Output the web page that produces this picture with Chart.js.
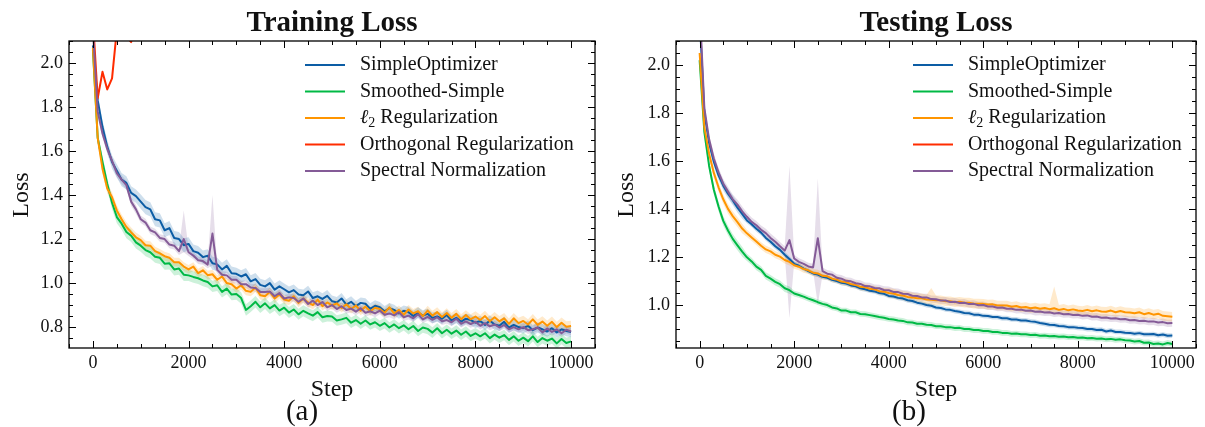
<!DOCTYPE html>
<html><head><meta charset="utf-8">
<script src="https://cdn.jsdelivr.net/npm/chart.js@4"></script>
<style>
html,body{margin:0;padding:0;background:#fff;}
#wrap{position:relative;width:1205px;height:427px;overflow:hidden;}
#c1{position:absolute;left:0;top:0;}
#c2{position:absolute;left:605px;top:0;}
</style></head><body>
<div id="wrap"><canvas id="c1" width="605" height="427"></canvas><canvas id="c2" width="600" height="427"></canvas></div>
<script>
// ---------- data ----------
const steps = Array.from({length: 101}, (_, i) => i * 100);
const xTickValues = [0, 2000, 4000, 6000, 8000, 10000];
const trainYTicks = [0.8, 1.0, 1.2, 1.4, 1.6, 1.8, 2.0];
const testYTicks = [1.0, 1.2, 1.4, 1.6, 1.8, 2.0];
const seriesNames = ['SimpleOptimizer', 'Smoothed-Simple', 'ℓ2 Regularization', 'Orthogonal Regularization', 'Spectral Normalization'];
const seriesColors = ['#0C5DA5', '#00B945', '#FF9500', '#FF2C00', '#845B97'];

// Training loss
const trainSimple = [2.08,1.83,1.71,1.62,1.55,1.51,1.47,1.455,1.41,1.395,
1.37,1.345,1.335,1.29,1.285,1.24,1.25,1.205,1.2,1.172,
1.178,1.145,1.138,1.118,1.124,1.09,1.085,1.062,1.078,1.045,
1.042,1.03,1.04,1.008,1.018,0.992,0.985,1.0,0.97,0.985,
0.972,0.958,0.968,0.948,0.945,0.962,0.932,0.94,0.928,0.942,
0.918,0.912,0.93,0.902,0.915,0.895,0.91,0.906,0.883,0.897,
0.89,0.872,0.886,0.878,0.862,0.874,0.868,0.85,0.866,0.852,
0.86,0.842,0.848,0.838,0.855,0.83,0.842,0.825,0.838,0.832,
0.82,0.828,0.81,0.83,0.812,0.806,0.824,0.798,0.81,0.8,
0.795,0.806,0.786,0.798,0.79,0.78,0.795,0.776,0.79,0.782,0.778];
const trainSmooth = [2.06,1.66,1.55,1.45,1.365,1.3,1.27,1.232,1.215,1.185,
1.17,1.15,1.14,1.12,1.115,1.088,1.09,1.062,1.066,1.038,
1.035,1.028,1.022,1.012,1.005,0.985,0.99,0.96,0.975,0.948,
0.95,0.932,0.878,0.895,0.915,0.89,0.908,0.885,0.9,0.875,
0.888,0.866,0.88,0.858,0.874,0.862,0.852,0.868,0.845,0.85,
0.848,0.83,0.835,0.842,0.82,0.832,0.815,0.83,0.812,0.822,
0.806,0.818,0.798,0.812,0.795,0.808,0.79,0.805,0.782,0.798,
0.792,0.775,0.795,0.772,0.788,0.77,0.784,0.765,0.78,0.76,
0.772,0.758,0.772,0.75,0.766,0.752,0.764,0.742,0.758,0.738,
0.752,0.736,0.758,0.732,0.75,0.738,0.748,0.726,0.746,0.728,0.735];
const trainL2 = [2.07,1.66,1.52,1.43,1.39,1.33,1.29,1.255,1.23,1.208,
1.195,1.172,1.17,1.145,1.135,1.122,1.115,1.095,1.095,1.075,
1.062,1.075,1.045,1.058,1.036,1.04,1.015,1.03,1.0,0.995,
0.975,0.99,0.965,0.96,0.98,0.945,0.94,0.96,0.93,0.948,
0.925,0.92,0.94,0.91,0.93,0.912,0.9,0.925,0.895,0.912,
0.898,0.908,0.886,0.904,0.882,0.898,0.874,0.893,0.872,0.888,
0.882,0.865,0.89,0.862,0.878,0.856,0.88,0.862,0.872,0.85,
0.875,0.852,0.868,0.846,0.864,0.842,0.86,0.836,0.855,0.836,
0.848,0.832,0.85,0.826,0.845,0.826,0.84,0.815,0.84,0.818,
0.828,0.812,0.835,0.81,0.825,0.806,0.824,0.8,0.82,0.802,0.805];
const trainOrtho = [2.2,1.84,1.96,1.88,1.93,2.15,2.2,2.12,2.095,2.2,2.3];
const trainSpectral = [2.15,1.78,1.68,1.61,1.555,1.5,1.47,1.445,1.37,1.335,
1.29,1.275,1.24,1.23,1.205,1.2,1.175,1.17,1.145,1.2,
1.14,1.125,1.104,1.1,1.084,1.225,1.06,1.038,1.035,1.015,
1.015,0.995,0.995,0.98,0.978,0.96,0.96,0.962,0.94,0.955,
0.93,0.935,0.932,0.915,0.93,0.905,0.92,0.9,0.914,0.89,
0.9,0.882,0.895,0.878,0.884,0.87,0.886,0.865,0.872,0.862,
0.875,0.856,0.862,0.853,0.868,0.845,0.852,0.84,0.858,0.835,
0.846,0.833,0.845,0.826,0.832,0.822,0.838,0.815,0.826,0.814,
0.824,0.806,0.818,0.803,0.812,0.798,0.81,0.79,0.8,0.79,
0.8,0.786,0.79,0.798,0.776,0.794,0.778,0.79,0.772,0.788,0.78];

// Testing loss
const testSimple = [2.2,1.8,1.675,1.597,1.54,1.497,1.463,1.436,1.405,1.379,
1.352,1.336,1.317,1.301,1.279,1.263,1.244,1.229,1.209,1.191,
1.171,1.163,1.151,1.141,1.131,1.126,1.117,1.113,1.104,1.099,
1.092,1.089,1.081,1.077,1.069,1.065,1.059,1.056,1.049,1.046,
1.037,1.035,1.029,1.026,1.019,1.016,1.009,1.005,0.999,0.996,
0.989,0.987,0.981,0.979,0.974,0.971,0.966,0.965,0.959,0.959,
0.954,0.953,0.949,0.949,0.944,0.944,0.939,0.939,0.935,0.935,
0.931,0.929,0.924,0.921,0.917,0.916,0.912,0.911,0.907,0.907,
0.904,0.903,0.899,0.899,0.895,0.896,0.889,0.893,0.887,0.887,
0.884,0.883,0.879,0.882,0.877,0.877,0.878,0.873,0.876,0.871,0.872];
const testSmooth = [2.02,1.72,1.58,1.48,1.41,1.35,1.31,1.275,1.248,1.222,
1.198,1.181,1.159,1.146,1.121,1.109,1.096,1.086,1.069,1.061,
1.047,1.041,1.034,1.026,1.019,1.011,1.004,0.999,0.989,0.985,
0.976,0.976,0.969,0.969,0.962,0.961,0.957,0.953,0.949,0.946,
0.941,0.939,0.935,0.933,0.927,0.926,0.921,0.921,0.917,0.916,
0.911,0.911,0.907,0.907,0.903,0.904,0.899,0.899,0.895,0.895,
0.891,0.891,0.887,0.887,0.883,0.883,0.879,0.88,0.877,0.877,
0.874,0.875,0.871,0.872,0.869,0.87,0.867,0.868,0.865,0.866,
0.863,0.864,0.861,0.862,0.859,0.86,0.856,0.858,0.854,0.856,
0.852,0.851,0.847,0.849,0.842,0.843,0.837,0.839,0.835,0.841,0.837];
const testL2 = [2.05,1.74,1.63,1.55,1.49,1.44,1.4,1.37,1.345,1.318,
1.298,1.281,1.264,1.246,1.231,1.223,1.209,1.201,1.187,1.179,
1.165,1.159,1.149,1.144,1.134,1.131,1.121,1.119,1.109,1.105,
1.097,1.094,1.087,1.083,1.075,1.073,1.067,1.065,1.057,1.055,
1.049,1.047,1.041,1.039,1.033,1.031,1.027,1.027,1.022,1.021,
1.019,1.019,1.015,1.015,1.011,1.013,1.009,1.009,1.005,1.005,
1.004,1.001,1.002,0.997,0.997,0.997,0.992,0.995,0.989,0.991,
0.986,0.989,0.984,0.987,0.982,0.986,0.979,0.983,0.977,0.981,
0.976,0.974,0.979,0.973,0.977,0.972,0.971,0.976,0.969,0.974,
0.969,0.968,0.965,0.969,0.961,0.966,0.959,0.963,0.954,0.952,0.95];
const testOrtho = [];
const testSpectral = [2.25,1.82,1.69,1.61,1.552,1.505,1.472,1.44,1.418,1.39,
1.367,1.346,1.332,1.313,1.299,1.279,1.263,1.244,1.226,1.27,
1.193,1.179,1.171,1.16,1.156,1.278,1.141,1.13,1.126,1.113,
1.109,1.1,1.098,1.09,1.087,1.078,1.077,1.07,1.069,1.062,
1.061,1.054,1.053,1.046,1.045,1.038,1.037,1.031,1.031,1.024,
1.023,1.018,1.018,1.012,1.013,1.008,1.009,1.003,1.004,0.998,
0.999,0.993,0.993,0.988,0.989,0.984,0.984,0.979,0.98,0.975,
0.976,0.971,0.972,0.968,0.969,0.964,0.966,0.961,0.962,0.958,
0.959,0.954,0.956,0.95,0.951,0.946,0.947,0.943,0.944,0.94,
0.941,0.936,0.937,0.933,0.934,0.93,0.931,0.926,0.928,0.923,0.924];

// shaded spread (half width) read per 1000 steps
const trainSpread = [
  [0.03,0.032,0.03,0.028,0.026,0.025,0.024,0.024,0.024,0.024,0.024],
  [0.028,0.028,0.026,0.026,0.025,0.024,0.024,0.024,0.024,0.024,0.024],
  [0.022,0.02,0.02,0.02,0.02,0.02,0.02,0.022,0.024,0.024,0.024],
  null,
  [0.02,0.017,0.017,0.017,0.017,0.017,0.017,0.017,0.017,0.017,0.017]
];
const testSpread = [
  [0.02,0.012,0.01,0.01,0.01,0.01,0.01,0.01,0.01,0.01,0.01],
  [0.02,0.015,0.012,0.012,0.012,0.012,0.012,0.012,0.012,0.012,0.012],
  [0.02,0.015,0.015,0.015,0.02,0.02,0.02,0.02,0.02,0.02,0.02],
  null,
  [0.02,0.018,0.015,0.015,0.015,0.015,0.015,0.015,0.015,0.015,0.015]
];
// band spikes: [series, step index, upper, lower]
const trainBandSpikes = [[4, 19, 1.33, 1.14], [4, 25, 1.40, 1.08]];
const testBandSpikes = [[4, 19, 1.58, 0.944], [4, 25, 1.528, 1.0], [2, 49, 1.07, 1.0], [2, 75, 1.076, 0.965]];

// ---------- rendering ----------
const FONT = '"Liberation Serif", "Times New Roman", serif';

function rgba(hex, a) {
  const n = parseInt(hex.slice(1), 16);
  return `rgba(${(n >> 16) & 255},${(n >> 8) & 255},${n & 255},${a})`;
}

function makeDatasets(valuesList, spreads, spikes) {
  const ds = [];
  valuesList.forEach((vals, k) => {
    const col = seriesColors[k];
    ds.push({
      label: seriesNames[k], data: vals.map((v, i) => ({x: steps[i], y: v})),
      borderColor: col, backgroundColor: col, borderWidth: 2, pointRadius: 0,
      borderJoinStyle: 'round', fill: false, tension: 0, order: 5 - k, clip: 0
    });
    const sp = spreads[k];
    if (sp && vals.length) {
      const up = vals.map((v, i) => ({x: steps[i], y: v + sp[Math.floor(i / 10)]}));
      const lo = vals.map((v, i) => ({x: steps[i], y: v - sp[Math.floor(i / 10)]}));
      spikes.filter(s => s[0] === k).forEach(s => { up[s[1]].y = s[2]; lo[s[1]].y = s[3]; });
      ds.push({data: up, borderColor: 'rgba(0,0,0,0)', borderWidth: 0, pointRadius: 0,
        fill: '+1', backgroundColor: rgba(col, 0.2), order: 20, clip: 0, tension: 0});
      ds.push({data: lo, borderColor: 'rgba(0,0,0,0)', borderWidth: 0, pointRadius: 0,
        fill: false, order: 20, clip: 0, tension: 0});
    }
  });
  return ds;
}

function decorPlugin(cfg) {
  return {
    id: 'decor',
    afterDraw(chart) {
      const ctx = chart.ctx, a = chart.chartArea, xs = chart.scales.x, ys = chart.scales.y;
      ctx.save();
      // ticks (inside, all four sides)
      ctx.strokeStyle = '#000';
      ctx.lineWidth = 1;
      ctx.beginPath();
      for (let v = Math.ceil(xs.min / 500) * 500; v <= xs.max; v += 500) {
        const major = xTickValues.includes(v);
        const len = major ? 7 : 4;
        const p = Math.round(xs.getPixelForValue(v)) + 0.5;
        ctx.moveTo(p, a.bottom); ctx.lineTo(p, a.bottom - len);
        ctx.moveTo(p, a.top); ctx.lineTo(p, a.top + len);
      }
      for (let j = Math.ceil(ys.min / 0.05 - 1e-6); j * 0.05 <= ys.max + 1e-6; j++) {
        const v = j * 0.05;
        const major = cfg.yTicks.some(t => Math.abs(t - v) < 1e-6);
        const len = major ? 7 : 4;
        const p = Math.round(ys.getPixelForValue(v)) + 0.5;
        ctx.moveTo(a.left, p); ctx.lineTo(a.left + len, p);
        ctx.moveTo(a.right, p); ctx.lineTo(a.right - len, p);
      }
      ctx.stroke();
      // frame
      ctx.lineWidth = 1.3;
      ctx.strokeRect(a.left, a.top, a.right - a.left, a.bottom - a.top);

      const cx = (a.left + a.right) / 2;
      ctx.fillStyle = '#111';
      ctx.textAlign = 'center';
      ctx.textBaseline = 'alphabetic';
      ctx.font = `bold 29px ${FONT}`;
      ctx.fillText(cfg.title, cx, 31);
      ctx.font = `24px ${FONT}`;
      ctx.fillText('Step', cx, 396);
      ctx.font = `29px ${FONT}`;
      ctx.fillText(cfg.sub, cfg.subX, 420);
      ctx.save();
      ctx.translate(28, 195);
      ctx.rotate(-Math.PI / 2);
      ctx.font = `24px ${FONT}`;
      ctx.fillText('Loss', 0, 0);
      ctx.restore();

      // legend
      ctx.textAlign = 'left';
      ctx.textBaseline = 'middle';
      seriesNames.forEach((name, k) => {
        const y = 65 + k * 26.5;
        ctx.strokeStyle = seriesColors[k];
        ctx.lineWidth = 2;
        ctx.beginPath();
        ctx.moveTo(cfg.legX, y); ctx.lineTo(cfg.legX + 40, y);
        ctx.stroke();
        ctx.fillStyle = '#111';
        ctx.font = `20px ${FONT}`;
        let tx = cfg.legX + 55;
        if (name.startsWith('ℓ2')) {
          ctx.font = `italic 20px ${FONT}`;
          ctx.fillText('ℓ', tx, y);
          tx += ctx.measureText('ℓ').width;
          ctx.font = `14px ${FONT}`;
          ctx.fillText('2', tx, y + 5);
          tx += ctx.measureText('2').width;
          ctx.font = `20px ${FONT}`;
          ctx.fillText(name.slice(2), tx, y);
        } else {
          ctx.fillText(name, tx, y);
        }
      });
      ctx.restore();
    }
  };
}

function makeChart(id, cfg) {
  return new Chart(document.getElementById(id), {
    type: 'line',
    data: {datasets: cfg.datasets},
    options: {
      responsive: false, animation: false, devicePixelRatio: 1,
      layout: {padding: {top: 41, right: cfg.padRight, left: 0, bottom: 0}},
      plugins: {legend: {display: false}, tooltip: {enabled: false}, title: {display: false}},
      scales: {
        x: {
          type: 'linear', min: -500, max: 10500,
          grid: {display: false, drawTicks: false}, border: {display: false},
          afterBuildTicks: s => { s.ticks = xTickValues.map(v => ({value: v})); },
          afterFit: s => { s.height = 79; },
          ticks: {autoSkip: false, maxRotation: 0, padding: 4, color: '#111',
            font: {family: FONT, size: 18}, callback: v => String(v)}
        },
        y: {
          type: 'linear', min: cfg.yMin, max: 2.1,
          grid: {display: false, drawTicks: false}, border: {display: false},
          afterBuildTicks: s => { s.ticks = cfg.yTicks.map(v => ({value: v})); },
          afterFit: s => { s.width = cfg.yWidth; },
          ticks: {autoSkip: false, padding: 6, color: '#111',
            font: {family: FONT, size: 18}, callback: v => Number(v).toFixed(1)}
        }
      }
    },
    plugins: [decorPlugin(cfg)]
  });
}

makeChart('c1', {
  datasets: makeDatasets([trainSimple, trainSmooth, trainL2, trainOrtho, trainSpectral], trainSpread, trainBandSpikes),
  yMin: 0.705, yTicks: trainYTicks, yWidth: 69, padRight: 10,
  title: 'Training Loss', sub: '(a)', subX: 302, legX: 305
});
makeChart('c2', {
  datasets: makeDatasets([testSimple, testSmooth, testL2, testOrtho, testSpectral], testSpread, testBandSpikes),
  yMin: 0.82, yTicks: testYTicks, yWidth: 71, padRight: 9,
  title: 'Testing Loss', sub: '(b)', subX: 304, legX: 308
});
</script>
</body></html>
